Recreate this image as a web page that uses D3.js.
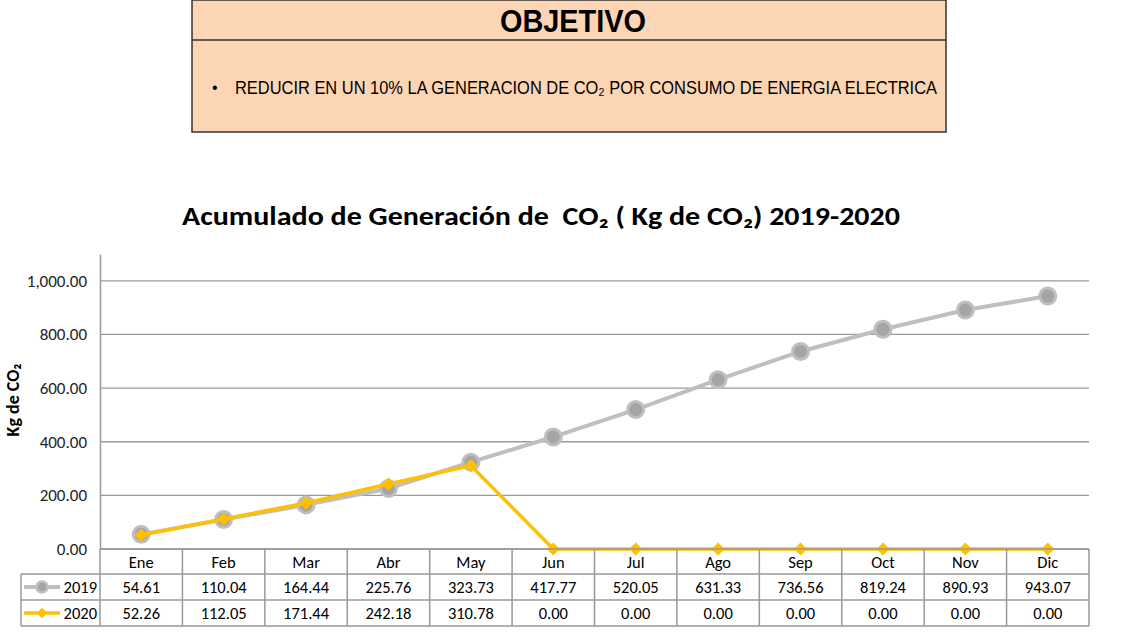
<!DOCTYPE html>
<html>
<head>
<meta charset="utf-8">
<script src="https://cdn.jsdelivr.net/npm/d3@7"></script>
<style>
  body { margin: 0; background: #fff; }
  svg { display: block; font-family: Carlito, "Open Sans", "Noto Sans", sans-serif; }
</style>
</head>
<body>
<svg id="chart" width="1133" height="642"></svg>
<script>
// datos
const months = ['Ene', 'Feb', 'Mar', 'Abr', 'May', 'Jun', 'Jul', 'Ago', 'Sep', 'Oct', 'Nov', 'Dic'];
const values2019 = [54.61, 110.04, 164.44, 225.76, 323.73, 417.77, 520.05, 631.33, 736.56, 819.24, 890.93, 943.07];
const values2020 = [52.26, 112.05, 171.44, 242.18, 310.78, 0, 0, 0, 0, 0, 0, 0];
const yTicks = [0, 200, 400, 600, 800, 1000];

const series = [
  { name: '2019', values: values2019 },
  { name: '2020', values: values2020 }
];

const svg = d3.select('#chart');
const fmt = d3.format(',.2f');

const gray = '#bfbfbf', grayDark = '#a5a5a5', gold = '#ffc000', border = '#999';
const fs = '16.5px';

// --- caja de objetivo ---
const box = svg.append('g');
box.append('rect')
  .attr('x', 192).attr('y', 0).attr('width', 754).attr('height', 132)
  .attr('fill', '#fcd5b5').attr('stroke', '#333').attr('stroke-width', 1.5);
box.append('line')
  .attr('x1', 192).attr('x2', 946).attr('y1', 40).attr('y2', 40)
  .attr('stroke', '#333').attr('stroke-width', 1.5);
box.append('text')
  .attr('x', 573).attr('y', 32)
  .attr('text-anchor', 'middle')
  .style('font-family', '"Liberation Sans", Arial, sans-serif')
  .style('font-weight', 'bold').style('font-size', '31px')
  .attr('textLength', 146).attr('lengthAdjust', 'spacingAndGlyphs')
  .text('OBJETIVO');
box.append('text')
  .attr('x', 212).attr('y', 93)
  .style('font-family', '"Liberation Sans", Arial, sans-serif')
  .style('font-size', '16px')
  .text('•');
box.append('text')
  .attr('x', 235).attr('y', 94)
  .style('font-family', '"Liberation Sans", Arial, sans-serif')
  .style('font-size', '18.5px')
  .attr('textLength', 702).attr('lengthAdjust', 'spacingAndGlyphs')
  .text('REDUCIR EN UN 10% LA GENERACION DE CO₂ POR CONSUMO DE ENERGIA ELECTRICA');

// --- titulo ---
svg.append('text')
  .attr('x', 541).attr('y', 225)
  .attr('text-anchor', 'middle')
  .style('white-space', 'pre')
  .style('font-weight', 'bold').style('font-size', '27px')
  .attr('textLength', 718).attr('lengthAdjust', 'spacingAndGlyphs')
  .text('Acumulado de Generación de  CO₂ ( Kg de CO₂) 2019-2020');

// --- escalas ---
const plotLeft = 100, plotRight = 1089, plotTop = 254, plotBottom = 549;
const x = d3.scaleBand().domain(months).range([plotLeft, plotRight]);
const y = d3.scaleLinear().domain([0, 1100]).range([plotBottom, plotTop]);
const cx = m => x(m) + x.bandwidth() / 2;

// lineas de cuadricula
svg.append('g')
  .selectAll('line')
  .data(yTicks)
  .join('line')
  .attr('x1', plotLeft).attr('x2', plotRight)
  .attr('y1', d => y(d)).attr('y2', d => y(d))
  .attr('stroke', '#999').attr('stroke-width', 1.3);

// eje y
const yAxis = svg.append('g')
  .attr('transform', `translate(${plotLeft},0)`)
  .call(d3.axisLeft(y).tickValues(yTicks).tickFormat(fmt).tickSize(0).tickPadding(13));
yAxis.select('.domain').attr('stroke', '#999').attr('stroke-width', 1.5);
yAxis.selectAll('text').style('font-size', '17px').attr('fill', '#222')
  .style('font-family', 'Carlito, "Open Sans", sans-serif');

svg.append('text')
  .attr('transform', `translate(19,400) rotate(-90)`)
  .attr('text-anchor', 'middle')
  .style('font-weight', 'bold').style('font-size', '18px')
  .text('Kg de CO₂');

// --- lineas ---
const line = d3.line().x((d, i) => cx(months[i])).y(d => y(d));

svg.append('path')
  .datum(values2019)
  .attr('d', line)
  .attr('fill', 'none').attr('stroke', gray).attr('stroke-width', 4);
svg.append('g')
  .selectAll('circle')
  .data(values2019)
  .join('circle')
  .attr('cx', (d, i) => cx(months[i])).attr('cy', d => y(d))
  .attr('r', 8)
  .attr('fill', grayDark).attr('stroke', gray).attr('stroke-width', 3);

svg.append('path')
  .datum(values2020)
  .attr('d', line)
  .attr('fill', 'none').attr('stroke', gold).attr('stroke-width', 3.5);
const diamond = d3.symbol().type(d3.symbolDiamond2).size(110);
svg.append('g')
  .selectAll('path')
  .data(values2020)
  .join('path')
  .attr('d', diamond)
  .attr('transform', (d, i) => `translate(${cx(months[i])},${y(d)})`)
  .attr('fill', gold);

// --- tabla de datos ---
const tableLeft = 21, rowH = [549, 574, 600, 626];
const t = svg.append('g');

// lineas horizontales
t.append('line').attr('x1', plotLeft).attr('x2', plotRight).attr('y1', rowH[0]).attr('y2', rowH[0])
  .attr('stroke', border).attr('stroke-width', 1.5);
rowH.slice(1).forEach(yy => {
  t.append('line').attr('x1', tableLeft).attr('x2', plotRight).attr('y1', yy).attr('y2', yy)
    .attr('stroke', border).attr('stroke-width', 1.5);
});
// lineas verticales
t.append('line').attr('x1', tableLeft).attr('x2', tableLeft).attr('y1', rowH[1]).attr('y2', rowH[3])
  .attr('stroke', border).attr('stroke-width', 1.5);
t.selectAll('.vline')
  .data(months.map(m => x(m)).concat([plotRight]))
  .join('line')
  .attr('class', 'vline')
  .attr('x1', d => d).attr('x2', d => d)
  .attr('y1', rowH[0]).attr('y2', rowH[3])
  .attr('stroke', border).attr('stroke-width', 1.5);

// encabezado meses
t.selectAll('.mlabel')
  .data(months)
  .join('text')
  .attr('class', 'mlabel')
  .attr('x', d => cx(d)).attr('y', (rowH[0] + rowH[1]) / 2 + 6)
  .attr('text-anchor', 'middle')
  .style('font-size', fs)
  .text(d => d);

// filas de valores
series.forEach((s, si) => {
  const yMid = (rowH[si + 1] + rowH[si + 2]) / 2;
  t.selectAll('.val' + s.name)
    .data(s.values)
    .join('text')
    .attr('class', 'val' + s.name)
    .attr('x', (d, i) => cx(months[i])).attr('y', yMid + 6)
    .attr('text-anchor', 'middle')
    .style('font-size', fs)
    .text(d => fmt(d));

  // leyenda
  const lg = t.append('g');
  if (si === 0) {
    lg.append('line').attr('x1', 24).attr('x2', 60).attr('y1', yMid).attr('y2', yMid)
      .attr('stroke', gray).attr('stroke-width', 4);
    lg.append('circle').attr('cx', 42).attr('cy', yMid).attr('r', 5.5)
      .attr('fill', grayDark).attr('stroke', gray).attr('stroke-width', 2.5);
  } else {
    lg.append('line').attr('x1', 24).attr('x2', 60).attr('y1', yMid).attr('y2', yMid)
      .attr('stroke', gold).attr('stroke-width', 3.5);
    lg.append('path').attr('d', d3.symbol().type(d3.symbolDiamond2).size(70))
      .attr('transform', `translate(42,${yMid})`).attr('fill', gold);
  }
  lg.append('text').attr('x', 97).attr('y', yMid + 6)
    .attr('text-anchor', 'end')
    .style('font-size', fs)
    .text(s.name);
});
</script>
</body>
</html>
